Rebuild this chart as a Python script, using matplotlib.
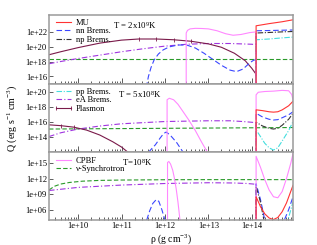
import numpy as np
import matplotlib
matplotlib.use("Agg")
import matplotlib.pyplot as plt
from matplotlib.ticker import LogLocator, FixedLocator, FuncFormatter, NullLocator

plt.rcParams['font.family'] = ['Liberation Serif', 'DejaVu Serif']
plt.rcParams['mathtext.fontset'] = 'custom'
plt.rcParams['mathtext.rm'] = 'Liberation Serif'
plt.rcParams['mathtext.default'] = 'regular'

# ---------------- data (log10 rho [g cm^-3], log10 Q [erg s^-1 cm^-3]) ----------------
# Panel 1 : T = 2x10^9 K
p1_plasmon_x = [9.33, 9.6, 10.0, 10.5, 11.0, 11.4, 11.8, 12.2, 12.6, 13.0, 13.3, 13.6, 13.85, 14.0, 14.1, 14.1]
p1_plasmon_y = [18.9, 19.3, 19.85, 20.45, 20.85, 21.0, 21.0, 20.9, 20.7, 20.35, 19.9, 19.1, 18.1, 17.1, 16.3, 10.0]
p1_eA_x = [9.33, 9.6, 10.0, 10.5, 11.0, 11.5, 12.0, 12.5, 13.0, 13.5, 14.0, 14.1, 14.1]
p1_eA_y = [17.7, 18.0, 18.4, 18.85, 19.3, 19.7, 20.05, 20.3, 20.4, 20.4, 20.3, 20.25, 10.0]
p1_syn_x = [9.33, 14.95]
p1_syn_y = [18.3, 18.3]
p1_nn_x = [11.57, 11.62, 11.68, 11.75, 11.85, 11.96, 12.1, 12.3, 12.5, 12.7, 12.9, 13.1, 13.3, 13.5, 13.65, 13.8, 13.95, 14.05, 14.1, 14.1, 14.1, 14.4, 14.7, 14.95]
p1_nn_y = [14.5, 16.0, 17.2, 18.2, 19.0, 19.55, 19.95, 20.2, 20.2, 19.8, 19.1, 18.3, 17.5, 16.85, 16.65, 17.0, 17.8, 18.2, 18.2, 10.0, 22.1, 22.13, 22.17, 22.2]
p1_np_x = [14.1, 14.1, 14.4, 14.7, 14.95]
p1_np_y = [10.0, 21.8, 21.87, 21.95, 22.0]
p1_pp_x = [14.1, 14.1, 14.4, 14.7, 14.95]
p1_pp_y = [10.0, 20.9, 21.0, 21.15, 21.25]
p1_mu_x = [14.1, 14.1, 14.4, 14.7, 14.95]
p1_mu_y = [10.0, 22.76, 23.05, 23.3, 23.56]
p1_cpbf_x = [12.49, 12.49, 12.52, 12.58, 12.7, 12.85, 13.0, 13.2, 13.4, 13.57, 13.75, 13.95, 14.1, 14.1]
p1_cpbf_y = [10.0, 21.8, 22.15, 22.35, 22.42, 22.4, 22.35, 22.1, 21.7, 21.5, 21.6, 21.85, 21.95, 10.0]

# Panel 2 : T = 5x10^8 K
p2_plasmon_x = [9.33, 9.6, 9.9, 10.2, 10.5, 10.8, 11.0, 11.15]
p2_plasmon_y = [15.56, 15.45, 15.25, 14.85, 14.2, 13.3, 12.6, 11.9]
p2_eA_x = [9.33, 9.6, 10.0, 10.5, 11.0, 11.5, 12.0, 12.5, 13.0, 13.5, 13.8, 14.0, 14.1, 14.1]
p2_eA_y = [14.0, 14.5, 15.0, 15.4, 15.7, 15.85, 16.0, 16.05, 16.1, 16.1, 16.0, 15.9, 15.85, 10.0]
p2_syn_x = [9.33, 14.95]
p2_syn_y = [15.0, 15.2]
p2_nn_x = [11.62, 11.7, 11.78, 11.89, 11.97, 12.03, 12.12, 12.27, 12.42, 14.1, 14.1, 14.25, 14.4, 14.5, 14.6, 14.7, 14.85, 14.95]
p2_nn_y = [11.9, 12.4, 12.9, 13.8, 14.4, 14.6, 14.2, 13.2, 11.9, 10.0, 17.1, 16.6, 16.3, 16.2, 16.25, 16.5, 16.9, 17.3]
p2_mu_x = [14.1, 14.1, 14.25, 14.4, 14.5, 14.6, 14.7, 14.85, 14.95]
p2_mu_y = [10.0, 17.56, 17.45, 17.3, 17.25, 17.3, 17.55, 18.1, 18.7]
p2_np_x = [14.1, 14.1, 14.25, 14.4, 14.5, 14.6, 14.7, 14.85, 14.95]
p2_np_y = [10.0, 15.9, 15.4, 15.1, 15.0, 15.1, 15.5, 16.3, 17.1]
p2_pp_x = [14.1, 14.1, 14.2, 14.3, 14.4, 14.5, 14.6, 14.7, 14.85, 14.95]
p2_pp_y = [10.0, 14.9, 14.0, 13.1, 12.5, 12.2, 12.5, 13.4, 14.8, 16.0]
p2_cpbf_x = [12.05, 12.05, 12.1, 12.2, 12.3, 12.42, 12.55, 12.7, 12.85, 12.98, 14.1, 14.1, 14.15, 14.3, 14.5, 14.7, 14.85, 14.92, 14.95]
p2_cpbf_y = [10.0, 18.9, 19.1, 18.9, 18.3, 17.3, 16.2, 14.8, 13.2, 11.9, 10.0, 19.56, 19.9, 20.0, 20.05, 20.15, 20.1, 19.6, 18.9]

# Panel 3 : T = 10^8 K
p3_syn_x = [9.33, 9.45, 9.6, 9.8, 10.1, 10.5, 11.0, 12.0, 13.0, 14.0, 14.95]
p3_syn_y = [9.8, 10.5, 10.95, 11.25, 11.5, 11.65, 11.72, 11.78, 11.8, 11.8, 11.8]
p3_eA_x = [9.33, 10.0, 11.0, 12.0, 13.0, 13.6, 13.9, 14.1, 14.1]
p3_eA_y = [9.7, 10.3, 10.75, 11.05, 11.2, 11.15, 11.05, 10.9, 3.0]
p3_nn_x = [11.58, 11.65, 11.72, 11.8, 11.86, 11.93, 12.0, 14.1, 14.1, 14.2, 14.3, 14.4, 14.6, 14.75, 14.85, 14.95]
p3_nn_y = [4.0, 5.8, 7.2, 7.95, 7.6, 6.0, 4.0, 3.0, 11.0, 8.0, 4.0, 1.0, 1.0, 4.0, 6.0, 8.5]
p3_np_x = [14.1, 14.1, 14.2, 14.28, 14.4]
p3_np_y = [3.0, 10.5, 7.5, 4.0, 1.0]
p3_pp_x = [14.8, 14.95]
p3_pp_y = [3.0, 7.5]
p3_mu_x = [14.1, 14.1, 14.2, 14.3, 14.4, 14.5, 14.6, 14.7, 14.8, 14.95]
p3_mu_y = [3.0, 8.5, 6.6, 5.2, 4.4, 4.1, 4.5, 5.6, 7.3, 10.7]
p3_cpbf_x = [12.06, 12.06, 12.09, 12.13, 12.18, 12.22, 12.26, 12.3, 12.34, 12.36, 14.1, 14.1, 14.2, 14.3, 14.4, 14.5, 14.6, 14.7, 14.8, 14.9, 14.95]
p3_cpbf_y = [3.0, 15.1, 15.3, 14.8, 13.6, 12.0, 10.0, 7.5, 4.5, 3.0, 3.0, 16.3, 14.2, 11.8, 9.8, 8.5, 8.3, 9.5, 12.0, 15.0, 16.8]

temps = ["T = 2x10$^{9}$K", "T = 5x10$^{8}$K", "T=10$^{8}$K"]
ylims = [(15.0, 24.2), (11.9, 21.0), (4.07, 17.07)]
yticks = [[16, 18, 20, 22], [14, 16, 18, 20], [6, 9, 12, 15]]
xtick_labels_dec = [10, 11, 12, 13, 14]

# ---------------- styles ----------------
ST = {
    'MU': dict(color='#ff3333', ls='-'),
    'nn': dict(color='#3a46ff', dashes=(5, 2.5)),
    'np': dict(color='#333333', dashes=(5, 1.5, 1, 1.5)),
    'pp': dict(color='#44dede', dashes=(5, 1.5, 1, 1.5)),
    'eA': dict(color='#a033e0', dashes=(5, 2, 1, 2)),
    'Pl': dict(color='#7a1a4a', ls='-', marker='|', ms=2.5, mew=0.6),
    'CP': dict(color='#ff88ff', ls='-'),
    'SY': dict(color='#2a9a2a', dashes=(4, 2)),
}
LW = 0.8

fig = plt.figure(figsize=(3.17, 2.45), dpi=100)
L, R = 49 / 317, 293 / 317
bounds = [(15, 84), (84, 152.3), (152.3, 219.7)]
axes = []
for (t, b) in bounds:
    ax = fig.add_axes([L, 1 - b / 245, R - L, (b - t) / 245])
    axes.append(ax)


def draw(ax, key, xs, ys, label=None, markevery=None):
    kw = dict(ST[key])
    if 'marker' in kw:
        kw['markevery'] = markevery
    return ax.plot(10 ** np.array(xs), 10 ** np.array(ys), lw=LW, label=label, **kw)[0]


# panel 1
ax = axes[0]
draw(ax, 'SY', p1_syn_x, p1_syn_y)
draw(ax, 'eA', p1_eA_x, p1_eA_y)
draw(ax, 'Pl', p1_plasmon_x, p1_plasmon_y, markevery=[5, 6, 7, 8])
h_nn = draw(ax, 'nn', p1_nn_x, p1_nn_y, 'nn Brems.')
h_np = draw(ax, 'np', p1_np_x, p1_np_y, 'np Brems.')
draw(ax, 'pp', p1_pp_x, p1_pp_y)
draw(ax, 'CP', p1_cpbf_x, p1_cpbf_y)
h_mu = draw(ax, 'MU', p1_mu_x, p1_mu_y, 'MU')
leg1 = [h_mu, h_nn, h_np]

# panel 2
ax = axes[1]
draw(ax, 'SY', p2_syn_x, p2_syn_y)
h_eA = draw(ax, 'eA', p2_eA_x, p2_eA_y, 'eA Brems.')
h_pl = draw(ax, 'Pl', p2_plasmon_x, p2_plasmon_y, 'Plasmon', markevery=[1, 2])
draw(ax, 'nn', p2_nn_x, p2_nn_y)
draw(ax, 'np', p2_np_x, p2_np_y)
h_pp = draw(ax, 'pp', p2_pp_x, p2_pp_y, 'pp Brems.')
draw(ax, 'CP', p2_cpbf_x, p2_cpbf_y)
draw(ax, 'MU', p2_mu_x, p2_mu_y)
leg2 = [h_pp, h_eA, h_pl]

# panel 3
ax = axes[2]
h_sy = draw(ax, 'SY', p3_syn_x, p3_syn_y, '\u03bd-Synchrotron')
draw(ax, 'eA', p3_eA_x, p3_eA_y)
draw(ax, 'nn', p3_nn_x, p3_nn_y)
draw(ax, 'np', p3_np_x, p3_np_y)
draw(ax, 'pp', p3_pp_x, p3_pp_y)
h_cp = draw(ax, 'CP', p3_cpbf_x, p3_cpbf_y, 'CPBF')
draw(ax, 'MU', p3_mu_x, p3_mu_y)
leg3 = [h_cp, h_sy]

fmt = FuncFormatter(lambda v, p: f"{v:.0e}")
txt_pos = [(0.262, 0.855), (0.283, 0.839), (0.298, 0.845)]
for i, ax in enumerate(axes):
    ax.set_xscale('log')
    ax.set_yscale('log')
    ax.set_xlim(10 ** 9.33, 10 ** 14.95)
    ax.set_ylim(10 ** ylims[i][0], 10 ** ylims[i][1])
    ax.yaxis.set_major_locator(FixedLocator([10.0 ** k for k in yticks[i]]))
    ax.yaxis.set_minor_locator(NullLocator())
    ax.yaxis.set_major_formatter(fmt)
    ax.xaxis.set_major_locator(FixedLocator([10.0 ** k for k in xtick_labels_dec]))
    ax.xaxis.set_minor_locator(LogLocator(base=10, subs=np.arange(2, 10)))
    if i == 2:
        ax.xaxis.set_major_formatter(fmt)
    else:
        ax.xaxis.set_major_formatter(FuncFormatter(lambda v, p: ""))
    ax.tick_params(axis='both', which='both', direction='in', labelsize=6.1, colors='#444444',
                   labelcolor='black', width=0.6, pad=1.5)
    ax.tick_params(axis='x', which='major', length=4)
    ax.tick_params(axis='x', which='minor', length=2.3)
    ax.tick_params(axis='y', which='major', length=3)
    for s in ax.spines.values():
        s.set_color('#9a9a9a')
        s.set_linewidth(1.1)
    ax.text(txt_pos[i][0], txt_pos[i][1], temps[i], transform=ax.transAxes, fontsize=6.3,
            ha='left', va='center')

for ax, hs in zip(axes, [leg1, leg2, leg3]):
    ax.legend(handles=hs, loc='upper left', bbox_to_anchor=(0.0, 1.0), frameon=False,
              fontsize=6.1, labelspacing=0.02, handlelength=2.4, handletextpad=0.3,
              borderaxespad=0.25, numpoints=2, borderpad=0.25)

fig.text(12 / 317, 1 - 118 / 245, "Q (erg s$^{-1}$ cm$^{-3}$)", rotation=90, fontsize=7.2,
         ha='center', va='center')
fig.text(171 / 317, 1 - 239 / 245, "\u03c1 (g cm$^{-3}$)", fontsize=7, ha='center', va='center')

fig.savefig("out.png", dpi=100)
